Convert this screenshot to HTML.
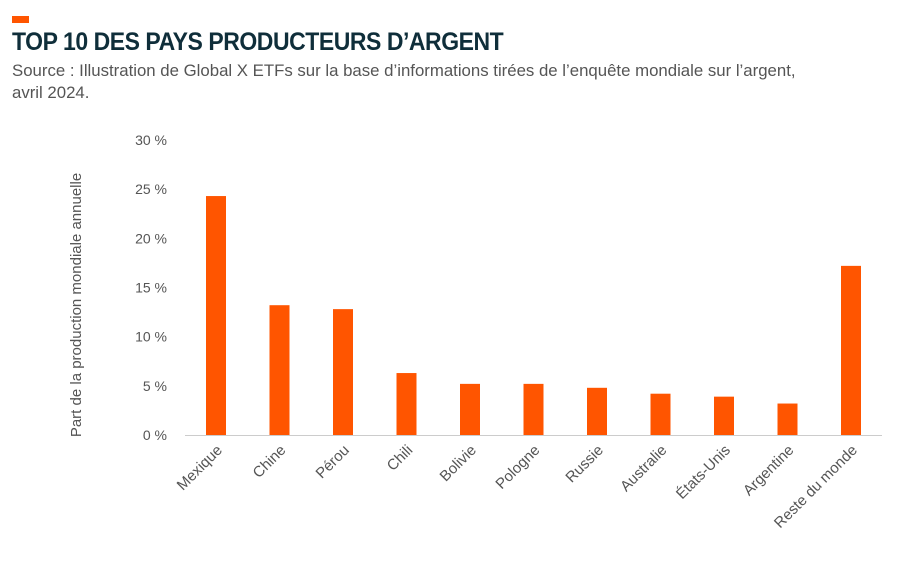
<!DOCTYPE html>
<html><head><meta charset="utf-8"><style>
body{margin:0;background:#fff;width:903px;height:563px;overflow:hidden;font-family:"Liberation Sans",sans-serif;}
.acc{position:absolute;left:12px;top:16px;width:17px;height:7px;background:#ff5500;}
h1{position:absolute;left:12px;top:28px;margin:0;font-size:25px;font-weight:bold;color:#0f2e3a;letter-spacing:-0.5px;transform:scaleX(0.92);transform-origin:left;white-space:nowrap;}
.src{position:absolute;left:12px;top:60px;font-size:16.8px;color:#555;line-height:22px;width:890px;}
svg{position:absolute;left:0;top:0;}
</style></head><body>
<div class="acc"></div>
<h1>TOP 10 DES PAYS PRODUCTEURS D’ARGENT</h1>
<div class="src">Source : Illustration de Global X ETFs sur la base d’informations tirées de l’enquête mondiale sur l’argent,<br>avril 2024.</div>
<svg id="c" width="903" height="563"></svg>
<script>
const categories=["Mexique","Chine","Pérou","Chili","Bolivie","Pologne","Russie","Australie","États-Unis","Argentine","Reste du monde"];
const values=[24.3,13.2,12.8,6.3,5.2,5.2,4.8,4.2,3.9,3.2,17.2];
const ticks=[0,5,10,15,20,25,30];
const tickLabels=["0 %","5 %","10 %","15 %","20 %","25 %","30 %"];
const NS="http://www.w3.org/2000/svg",svg=document.getElementById('c');
const y0=435,y30=140,x0=216,step=63.5,bw=20;
const y=v=>y0-(v/30)*(y0-y30);
const x=i=>x0+i*step;
function mk(t,a,txt){const e=document.createElementNS(NS,t);for(const k in a)e.setAttribute(k,a[k]);if(txt!=null)e.textContent=txt;svg.appendChild(e);return e;}
ticks.forEach((t,i)=>{
const e=mk('text',{x:167,y:y(t)+5,'text-anchor':'end','font-size':14,fill:'#555','font-family':'Liberation Sans'},tickLabels[i]);


});
const yt=mk('text',{x:0,y:0,transform:'translate(81,305) rotate(-90)','text-anchor':'middle','font-size':15,fill:'#555','font-family':'Liberation Sans'},'Part de la production mondiale annuelle');


values.forEach((v,i)=>{
const r=mk('rect',{x:x(i)-bw/2,y:y(v),width:bw,height:y0-y(v),fill:'#ff5500'});


const l=mk('text',{x:0,y:0,transform:`translate(${x(i)+7},${y0+16}) rotate(-45)`,'text-anchor':'end','font-size':15,fill:'#555','font-family':'Liberation Sans'},categories[i]);


});
const ax=mk('line',{x1:185,x2:882,y1:y0+0.5,y2:y0+0.5,stroke:'#ccc','stroke-width':1});


</script>
</body></html>
